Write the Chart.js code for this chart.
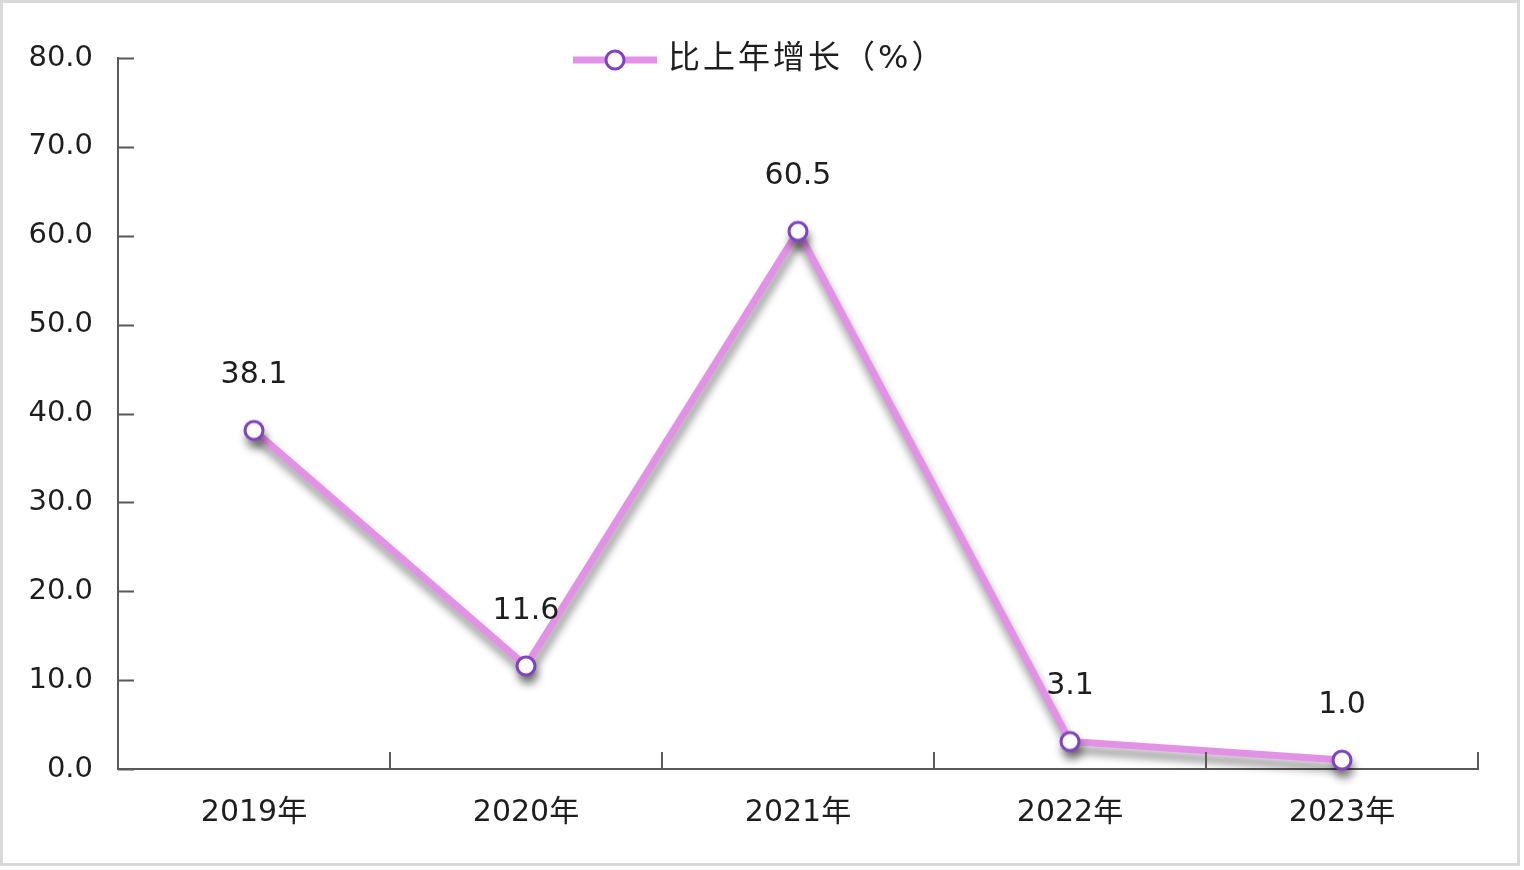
<!DOCTYPE html>
<html>
<head>
<meta charset="utf-8">
<script src="https://cdn.jsdelivr.net/npm/chart.js@4/dist/chart.umd.min.js"></script>
<style>
  body { margin: 0; background: #fff; }
  canvas { display: block; }
</style>
</head>
<body>
<canvas id="growthChart" width="1524" height="870"></canvas>
<script>
const categories = ['2019年', '2020年', '2021年', '2022年', '2023年'];
const growth = [38.1, 11.6, 60.5, 3.1, 1.0];
const seriesName = '比上年增长（%）';
const yMin = 0;
const yMax = 80;
const yStep = 10;

const FONT = '"DejaVu Sans", "Noto Sans CJK SC", sans-serif';
const LINE_COLOR = '#e291e6';
const POINT_BORDER = '#7f42c2';
const AXIS_COLOR = '#595959';
const TEXT_COLOR = '#1e1e1e';

// marker as an image so the shadow falls only under its outline
function makeMarker() {
  const c = document.createElement('canvas');
  c.width = 26; c.height = 26;
  const g = c.getContext('2d');
  g.beginPath();
  g.arc(13, 13, 9, 0, Math.PI * 2);
  g.fillStyle = '#fff';
  g.fill();
  g.lineWidth = 3;
  g.strokeStyle = POINT_BORDER;
  g.stroke();
  return c;
}
const marker = makeMarker();

const decorations = {
  id: 'decorations',
  beforeDraw(chart) {
    const ctx = chart.ctx;
    ctx.save();
    ctx.fillStyle = '#fff';
    ctx.fillRect(0, 0, chart.width, chart.height);
    ctx.strokeStyle = '#d9d9d9';
    ctx.lineWidth = 3;
    ctx.strokeRect(1.5, 1.5, 1517, 863);
    ctx.restore();
  },
  beforeDatasetsDraw(chart) {
    const ctx = chart.ctx;
    ctx.save();
    ctx.shadowColor = 'rgba(0,0,0,0.45)';
    ctx.shadowBlur = 9;
    ctx.shadowOffsetX = 2;
    ctx.shadowOffsetY = 8;
  },
  afterDatasetsDraw(chart) {
    const ctx = chart.ctx;
    ctx.restore();

    const area = chart.chartArea;
    const x = chart.scales.x;
    const y = chart.scales.y;

    // inward tick marks
    ctx.save();
    ctx.strokeStyle = AXIS_COLOR;
    ctx.lineWidth = 2;
    ctx.beginPath();
    y.ticks.forEach((t, i) => {
      const py = Math.round(y.getPixelForTick(i)) + 0.5;
      ctx.moveTo(area.left, py);
      ctx.lineTo(area.left + 16, py);
    });
    for (let i = 0; i < categories.length; i++) {
      const px = Math.round(x.getPixelForValue(i + 0.5));
      ctx.moveTo(px, area.bottom);
      ctx.lineTo(px, area.bottom - 17);
    }
    ctx.stroke();

    // value labels
    const meta = chart.getDatasetMeta(0);
    ctx.fillStyle = TEXT_COLOR;
    ctx.font = '30px ' + FONT;
    ctx.textAlign = 'center';
    ctx.textBaseline = 'middle';
    meta.data.forEach((pt, i) => {
      ctx.fillText(growth[i].toFixed(1), pt.x, pt.y - 55);
    });

    // legend
    const lx = 573, ly = 60;
    ctx.strokeStyle = LINE_COLOR;
    ctx.lineWidth = 7;
    ctx.beginPath();
    ctx.moveTo(lx, ly);
    ctx.lineTo(lx + 84, ly);
    ctx.stroke();
    ctx.drawImage(marker, lx + 42 - 13, ly - 13);
    ctx.fillStyle = TEXT_COLOR;
    ctx.font = '32px ' + FONT;
    ctx.textAlign = 'left';
    ctx.letterSpacing = '3px';
    ctx.fillText(seriesName, lx + 95, ly);
    ctx.restore();
  }
};

new Chart(document.getElementById('growthChart'), {
  type: 'line',
  data: {
    labels: categories,
    datasets: [{
      label: seriesName,
      data: growth,
      borderColor: LINE_COLOR,
      borderWidth: 7,
      tension: 0,
      fill: false,
      pointStyle: marker,
      pointRadius: 10,
      clip: false
    }]
  },
  options: {
    responsive: false,
    devicePixelRatio: 1,
    animation: false,
    layout: { padding: { left: 0, top: 58, right: 46, bottom: 0 } },
    plugins: {
      legend: { display: false },
      tooltip: { enabled: false }
    },
    scales: {
      x: {
        offset: true,
        grid: { display: false, drawTicks: false },
        border: { display: true, color: AXIS_COLOR, width: 2 },
        ticks: {
          color: TEXT_COLOR,
          font: { family: FONT, size: 30 },
          padding: 26,
          maxRotation: 0
        },
        afterFit(scale) { scale.height = 101; }
      },
      y: {
        min: yMin,
        max: yMax,
        grid: { display: false, drawTicks: false },
        border: { display: true, color: AXIS_COLOR, width: 2 },
        ticks: {
          stepSize: yStep,
          color: TEXT_COLOR,
          font: { family: FONT, size: 29 },
          padding: 25,
          callback: v => v.toFixed(1)
        },
        afterFit(scale) { scale.width = 118; }
      }
    }
  },
  plugins: [decorations]
});
</script>
</body>
</html>
